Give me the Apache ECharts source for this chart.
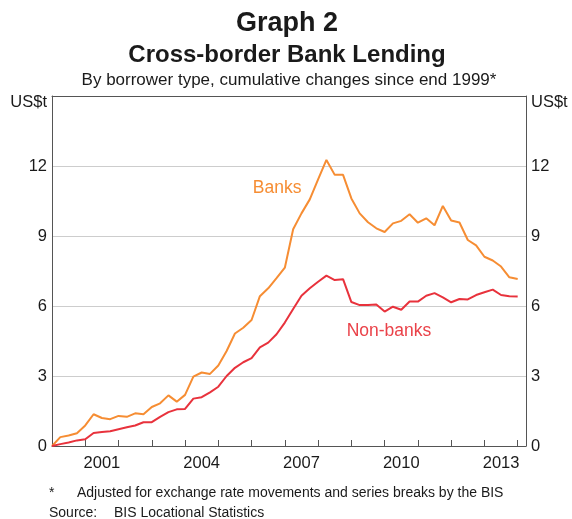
<!DOCTYPE html>
<html><head><meta charset="utf-8">
<script src="https://cdn.jsdelivr.net/npm/echarts@6/dist/echarts.min.js"></script>
<style>html,body{margin:0;padding:0;background:#fff}#c{width:572px;height:519px}</style>
</head><body><div id="c"></div>
<script>
// Quarterly observations, first point = end 1999 (decimal year 2000.0)
const startYear = 2000;
const quarterStep = 0.25;
const banks = [0, 0.38, 0.45, 0.55, 0.88, 1.36, 1.2, 1.15, 1.29, 1.25, 1.4, 1.36, 1.67, 1.83, 2.17, 1.9, 2.19, 2.97, 3.15, 3.09, 3.45, 4.07, 4.82, 5.07, 5.4, 6.42, 6.76, 7.19, 7.64, 9.29, 9.97, 10.57, 11.43, 12.26, 11.62, 11.62, 10.61, 9.97, 9.59, 9.33, 9.17, 9.54, 9.65, 9.93, 9.57, 9.76, 9.46, 10.29, 9.66, 9.58, 8.83, 8.6, 8.11, 7.95, 7.69, 7.23, 7.16];
const nonBanks = [0, 0.08, 0.15, 0.24, 0.29, 0.56, 0.6, 0.63, 0.72, 0.8, 0.88, 1.02, 1.02, 1.25, 1.45, 1.57, 1.59, 2.03, 2.09, 2.3, 2.54, 3.0, 3.35, 3.59, 3.77, 4.23, 4.43, 4.79, 5.29, 5.87, 6.44, 6.76, 7.04, 7.3, 7.11, 7.15, 6.17, 6.04, 6.04, 6.06, 5.76, 5.97, 5.84, 6.19, 6.19, 6.44, 6.55, 6.37, 6.16, 6.3, 6.28, 6.47, 6.59, 6.7, 6.47, 6.42, 6.41];
const yearLabels = [2001, 2004, 2007, 2010, 2013];
const yTickValues = [0, 3, 6, 9, 12];
const unitLabel = 'US$t';
const seriesNames = ['Banks', 'Non-banks'];
const titleText = 'Graph 2';
const subTitleText = 'Cross-border Bank Lending';
const descText = 'By borrower type, cumulative changes since end 1999*';
const noteMark = '*';
const noteText = 'Adjusted for exchange rate movements and series breaks by the BIS';
const sourceLabel = 'Source:';
const sourceText = 'BIS Locational Statistics';

const FONT = 'Arial, "Liberation Sans", Helvetica, sans-serif';
const ORANGE = '#f68d33';
const RED = '#e8323c';
const AXIS = '#555555';
const TXT = '#1a1a1a';

const toPoints = arr => arr.map((v, i) => [startYear + i * quarterStep, v]);

const chart = echarts.init(document.getElementById('c'), null, {renderer: 'canvas'});
const commonX = {type: 'value', min: 2000, max: 2014.25, splitLine: {show: false}};
const yFormatter = v => v === 15 ? '{u|' + unitLabel + '}' : (yTickValues.includes(v) ? String(v) : '');
const yLabel = {fontSize: 16.5, margin: 5, color: TXT, fontFamily: FONT, formatter: yFormatter,
  rich: {u: {fontSize: 16.5, color: TXT, fontFamily: FONT, padding: [13, 0, 0, 0]}}};
const option = {
  animation: false,
  textStyle: {fontFamily: FONT},
  grid: {left: 52, right: 46, top: 96, bottom: 73, containLabel: false},
  xAxis: [
    Object.assign({}, commonX, {
      position: 'bottom', interval: 1, z: 3,
      axisLine: {show: true, onZero: false, lineStyle: {color: AXIS, width: 1}},
      axisTick: {show: true, inside: true, length: 6, lineStyle: {color: AXIS, width: 1}},
      axisLabel: {show: false}
    }),
    Object.assign({}, commonX, {
      position: 'bottom', interval: 0.5,
      axisLine: {show: false, onZero: false},
      axisTick: {show: false},
      axisLabel: {show: true, margin: 9, fontSize: 16.5, color: TXT, fontFamily: FONT,
        showMinLabel: true, showMaxLabel: true,
        formatter: v => yearLabels.includes(v - 0.5) ? String(v - 0.5) : ''}
    }),
    Object.assign({}, commonX, {
      position: 'top', z: 3,
      axisLine: {show: true, onZero: false, lineStyle: {color: AXIS, width: 1}},
      axisTick: {show: false}, axisLabel: {show: false}
    })
  ],
  yAxis: [
    {type: 'value', min: 0, max: 15, interval: 3, position: 'left', z: 3,
      axisLine: {show: true, onZero: false, lineStyle: {color: AXIS, width: 1}},
      axisTick: {show: false},
      axisLabel: yLabel,
      splitLine: {show: true, lineStyle: {color: '#cdcdcd', width: 1}}},
    {type: 'value', min: 0, max: 15, interval: 3, position: 'right', z: 3,
      axisLine: {show: true, onZero: false, lineStyle: {color: AXIS, width: 1}},
      axisTick: {show: false},
      axisLabel: yLabel,
      splitLine: {show: false}}
  ],
  series: [
    {name: seriesNames[0], type: 'line', data: toPoints(banks), xAxisIndex: 0, yAxisIndex: 0,
      showSymbol: false, symbol: 'none', z: 5, lineStyle: {color: ORANGE, width: 2}, itemStyle: {color: ORANGE}},
    {name: seriesNames[1], type: 'line', data: toPoints(nonBanks), xAxisIndex: 0, yAxisIndex: 0,
      showSymbol: false, symbol: 'none', z: 5, lineStyle: {color: RED, width: 2}, itemStyle: {color: RED}}
  ]
};
chart.setOption(option);

const pBanks = chart.convertToPixel({xAxisIndex: 0, yAxisIndex: 0}, [2006.77, 11.06]);
const pNon = chart.convertToPixel({xAxisIndex: 0, yAxisIndex: 0}, [2010.13, 4.93]);
const T = (x, y, text, size, opts) => Object.assign({
  type: 'text', x: x, y: y, silent: true,
  style: Object.assign({text: text, fontSize: size, fontFamily: FONT, fill: TXT, align: 'center', verticalAlign: 'middle'}, opts || {})
});
chart.setOption({
  graphic: [
    T(287, 24, titleText, 27, {fontWeight: 'bold'}),
    T(287, 55, subTitleText, 24, {fontWeight: 'bold'}),
    T(289, 80, descText, 17),
    T(pBanks[0], pBanks[1], seriesNames[0], 17.5, {fill: ORANGE}),
    T(pNon[0], pNon[1], seriesNames[1], 17.5, {fill: '#ea4249'}),
    T(49, 493, noteMark, 14, {align: 'left'}),
    T(77, 493, noteText, 14, {align: 'left'}),
    T(49, 513, sourceLabel, 14, {align: 'left'}),
    T(114, 513, sourceText, 14, {align: 'left'})
  ]
});
</script>
</body></html>
